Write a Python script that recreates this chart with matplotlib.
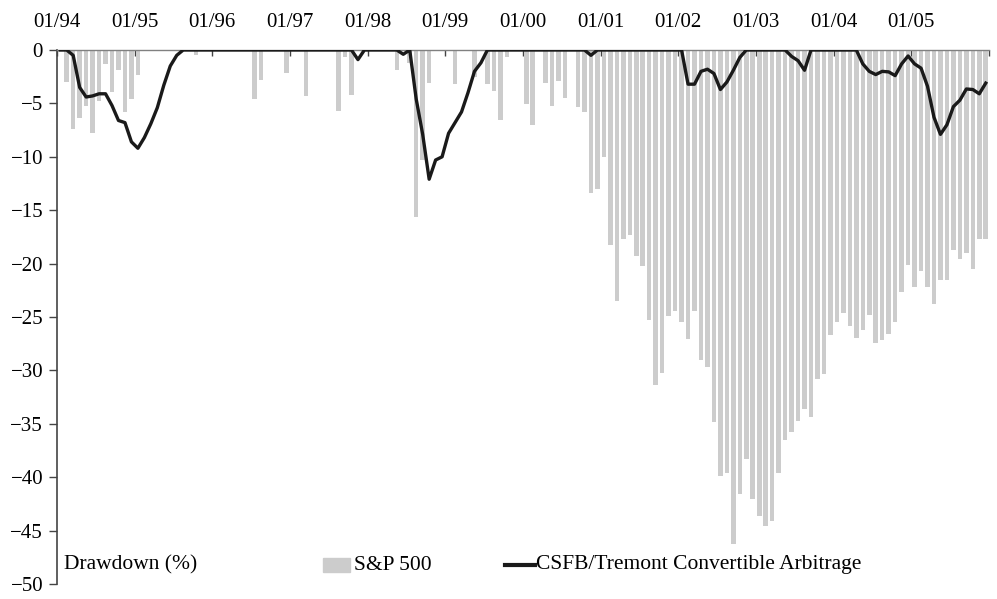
import numpy as np
import matplotlib
matplotlib.use("Agg")
import matplotlib.pyplot as plt
from matplotlib.patches import Rectangle
from matplotlib.lines import Line2D

plt.rcParams['font.family'] = ['Liberation Serif', 'DejaVu Serif']

# ---- data (monthly, 01/1994 .. 12/2005), drawdown in % ----
tick_labels = ['01/94', '01/95', '01/96', '01/97', '01/98', '01/99',
               '01/00', '01/01', '01/02', '01/03', '01/04', '01/05']

sp500_1994 = [0, -3.0, -7.4, -6.4, -5.2, -7.8, -4.8, -1.3, -3.9, -1.9, -5.8, -4.6]
sp500_1995 = [-2.3, 0, 0, 0, 0, 0, 0, -0.03, 0, -0.5, 0, 0]
sp500_1996 = [0, 0, 0, 0, 0, 0, -4.6, -2.8, 0, 0, 0, -2.2]
sp500_1997 = [0, 0, -4.3, 0, 0, 0, 0, -5.7, -0.7, -4.2, 0, 0]
sp500_1998 = [0, 0, 0, 0, -1.9, 0, -1.2, -15.6, -10.3, -3.1, 0, 0]
sp500_1999 = [0, -3.2, 0, 0, -2.5, 0, -3.2, -3.8, -6.6, -0.7, 0, 0]
sp500_2000 = [-5.1, -7.0, 0, -3.1, -5.2, -2.9, -4.5, 0, -5.3, -5.8, -13.4, -13.0]
sp500_2001 = [-10.0, -18.3, -23.5, -17.7, -17.3, -19.3, -20.2, -25.3, -31.4, -30.2, -24.9, -24.4]
sp500_2002 = [-25.5, -27.1, -24.4, -29.0, -29.7, -34.8, -39.9, -39.6, -46.3, -41.6, -38.3, -42.0]
sp500_2003 = [-43.6, -44.6, -44.1, -39.6, -36.5, -35.8, -34.7, -33.6, -34.4, -30.8, -30.3, -26.7]
sp500_2004 = [-25.5, -24.6, -25.8, -27.0, -26.2, -24.8, -27.4, -27.2, -26.6, -25.5, -22.7, -20.1]
sp500_2005 = [-22.2, -20.7, -22.2, -23.8, -21.5, -21.5, -18.7, -19.6, -19.0, -20.5, -17.7, -17.7]

csfb_1994 = [0, 0, -0.5, -3.5, -4.4, -4.3, -4.1, -4.1, -5.2, -6.6, -6.8, -8.6]
csfb_1995 = [-9.2, -8.2, -6.9, -5.4, -3.3, -1.5, -0.5, 0, 0, 0, 0, 0]
csfb_1996 = [0, 0, 0, 0, 0, 0, 0, 0, 0, 0, 0, 0]
csfb_1997 = [0, 0, 0, 0, 0, 0, 0, 0, 0, 0, -0.9, 0]
csfb_1998 = [0, 0, 0, 0, 0, -0.4, 0, -4.6, -7.9, -12.1, -10.3, -10.0]
csfb_1999 = [-7.8, -6.8, -5.8, -4.0, -2.0, -1.2, 0, 0, 0, 0, 0, 0]
csfb_2000 = [0, 0, 0, 0, 0, 0, 0, 0, 0, 0, -0.5, 0]
csfb_2001 = [0, 0, 0, 0, 0, 0, 0, 0, 0, 0, 0, 0]
csfb_2002 = [0, -3.2, -3.2, -2.0, -1.8, -2.2, -3.7, -3.0, -1.9, -0.7, 0, 0]
csfb_2003 = [0, 0, 0, 0, 0, -0.6, -1.0, -1.9, 0, 0, 0, 0]
csfb_2004 = [0, 0, 0, 0, -1.3, -2.0, -2.3, -2.0, -2.05, -2.4, -1.3, -0.56]
csfb_2005 = [-1.3, -1.7, -3.4, -6.3, -7.9, -7.0, -5.3, -4.7, -3.65, -3.7, -4.1, -3.1]

sp500 = (sp500_1994 + sp500_1995 + sp500_1996 + sp500_1997 + sp500_1998 + sp500_1999 +
         sp500_2000 + sp500_2001 + sp500_2002 + sp500_2003 + sp500_2004 + sp500_2005)
csfb = (csfb_1994 + csfb_1995 + csfb_1996 + csfb_1997 + csfb_1998 + csfb_1999 +
        csfb_2000 + csfb_2001 + csfb_2002 + csfb_2003 + csfb_2004 + csfb_2005)

W, H = 997, 599
fig = plt.figure(figsize=(W / 100, H / 100), dpi=100)
ax = fig.add_axes([57 / W, 1 - 584 / H, (989 - 57) / W, (584 - 50) / H])

n = len(sp500)
x = np.arange(n) + 0.5
ax.bar(x, sp500, width=0.7, color='#cccccc', zorder=2, linewidth=0)
ax.plot(x, csfb, color='#1a1a1a', lw=2.4, zorder=4, solid_joinstyle='round')

ax.set_xlim(0, n)
ax.set_ylim(-50, 0)

# x axis on top
ax.xaxis.tick_top()
ax.set_xticks(np.arange(0, n + 1, 12))
ax.set_xticklabels(tick_labels + [''])
ax.tick_params(axis='x', direction='in', length=4, width=1, color='#444444',
               labelsize=15, pad=13)

ax.set_yticks(np.arange(-50, 1, 5))
ax.set_yticklabels([f'{v:d}'.replace('-', '\u2212') for v in range(-50, 1, 5)])
ax.tick_params(axis='y', direction='out', length=6, width=1, color='#444444',
               labelsize=15, pad=4)

for s in ['right', 'bottom']:
    ax.spines[s].set_visible(False)
ax.spines['top'].set_color('#808080')
ax.spines['top'].set_linewidth(1.0)
ax.spines['top'].set_zorder(3)
ax.spines['left'].set_color('#444444')
ax.spines['left'].set_linewidth(1.2)

# bottom legend / label row
ty = 1 - 565 / H
fig.text(64 / W, ty, 'Drawdown (%)', fontsize=15.5, va='center', ha='left')
fig.patches.append(Rectangle((323 / W, 1 - 572 / H), 27 / W, 14 / H,
                             transform=fig.transFigure, color='#cccccc'))
fig.text(354 / W, ty, 'S&P 500', fontsize=15.5, va='center', ha='left')
fig.lines.append(Line2D([505 / W, 535 / W], [ty, ty], transform=fig.transFigure,
                        color='#1a1a1a', lw=3))
fig.text(536 / W, ty, 'CSFB/Tremont Convertible Arbitrage', fontsize=15.5,
         va='center', ha='left')

fig.savefig('out.png', dpi=100)
